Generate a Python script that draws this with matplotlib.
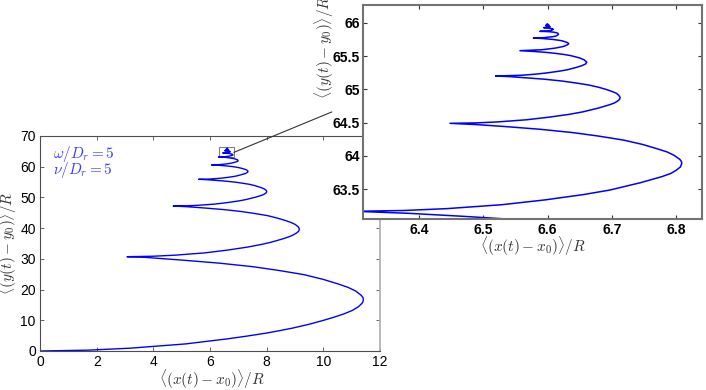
import matplotlib
matplotlib.use("Agg")
import matplotlib.pyplot as plt  # noqa: E402
from matplotlib.patches import Rectangle  # noqa: E402

plt.rcParams["font.family"] = ["Liberation Sans", "DejaVu Sans"]
plt.rcParams["mathtext.fontset"] = "cm"

# mean trajectory, first five turns
x_coarse = [
    0.00, 1.71, 3.19, 5.13, 6.62, 7.30, 7.99, 8.44, 8.90, 9.47, 9.98, 10.39, 10.73, 11.02,
    11.24, 11.36, 11.40, 11.41,
    11.40, 11.34, 11.14, 10.87, 10.51, 9.99, 9.31, 8.41, 7.51, 6.32, 5.10, 4.07, 3.57, 3.07,
    3.98, 4.77, 5.81, 6.60, 7.33, 7.81, 8.12, 8.39, 8.61, 8.79, 8.94, 9.06, 9.13, 9.15,
    9.14, 9.11, 9.01, 8.86, 8.67, 8.39, 8.03, 7.55, 7.07, 6.44, 5.79, 5.23, 4.70,
    5.20, 5.62, 6.19, 6.61, 7.01, 7.27, 7.59, 7.80, 7.89, 7.95, 7.99, 8.00,
    7.98, 7.92, 7.84, 7.74, 7.59, 7.40, 7.14, 6.88, 6.54, 6.19, 5.89, 5.60,
    5.86, 6.09, 6.38, 6.61, 6.82, 6.96, 7.12, 7.24, 7.28, 7.31, 7.33, 7.34,
    7.33, 7.30, 7.26, 7.20, 7.12, 7.01, 6.88, 6.74, 6.55, 6.36, 6.20, 6.05,
    6.19, 6.31, 6.47, 6.60, 6.71, 6.78, 6.87, 6.934, 6.958, 6.976, 6.986, 6.99,
    6.983, 6.968, 6.945, 6.915, 6.873, 6.816, 6.742, 6.667, 6.569, 6.468, 6.383,
]
y_coarse = [
    0.00, 0.28, 0.92, 2.30, 3.96, 4.85, 5.83, 6.60, 7.43, 8.64, 9.92, 11.05, 12.10, 13.20,
    14.43, 15.50, 16.12, 16.73,
    17.35, 18.11, 19.53, 20.72, 21.86, 23.33, 24.87, 26.25, 27.45, 28.61, 29.53, 30.24, 30.58, 30.70,
    30.85, 31.20, 31.94, 32.83, 33.84, 34.69, 35.34, 36.03, 36.64, 37.20, 37.80, 38.46, 39.03, 39.69,
    40.02, 40.44, 41.19, 41.84, 42.45, 43.24, 44.07, 44.81, 45.45, 46.08, 46.57, 46.95, 47.20,
    47.28, 47.46, 47.85, 48.32, 48.85, 49.31, 50.04, 50.63, 50.94, 51.29, 51.59, 51.94,
    52.33, 52.73, 53.07, 53.39, 53.81, 54.25, 54.64, 54.98, 55.31, 55.57, 55.77, 55.90,
    55.94, 56.04, 56.25, 56.51, 56.79, 57.04, 57.43, 57.75, 57.92, 58.11, 58.27, 58.46,
    58.67, 58.89, 59.07, 59.25, 59.47, 59.71, 59.92, 60.10, 60.28, 60.42, 60.53, 60.60,
    60.62, 60.68, 60.79, 60.93, 61.09, 61.22, 61.44, 61.61, 61.705, 61.81, 61.90, 62.00,
    62.116, 62.235, 62.335, 62.43, 62.553, 62.682, 62.797, 62.898, 63.035, 63.095, 63.14,
]

# later turns
x_fine = [
    6.300, 6.376, 6.443, 6.529, 6.595, 6.656, 6.697, 6.745, 6.778, 6.792, 6.801, 6.807, 6.809,
    6.8085, 6.806, 6.797, 6.786, 6.770, 6.748, 6.718, 6.679, 6.640, 6.589, 6.536, 6.491, 6.448,
    6.488, 6.522, 6.567, 6.602, 6.634, 6.655, 6.680, 6.697, 6.704, 6.709, 6.712, 6.713,
    6.711, 6.707, 6.700, 6.692, 6.680, 6.664, 6.643, 6.622, 6.595, 6.566, 6.542, 6.519,
    6.559, 6.583, 6.601, 6.618, 6.630, 6.643, 6.652, 6.659, 6.661,
    6.657, 6.650, 6.643, 6.635, 6.624, 6.612, 6.598, 6.582, 6.557,
    6.591, 6.601, 6.610, 6.616, 6.624, 6.628, 6.631, 6.633,
    6.631, 6.627, 6.624, 6.619, 6.613, 6.607, 6.599, 6.591, 6.578,
    6.595, 6.601, 6.608, 6.612, 6.615, 6.617,
    6.616, 6.614, 6.609, 6.603, 6.596, 6.588,
    6.598, 6.605, 6.609, 6.607, 6.601, 6.594,
    6.601, 6.604, 6.602, 6.597,
    6.600, 6.602, 6.600, 6.598, 6.600,
]
y_fine = [
    63.170, 63.182, 63.210, 63.269, 63.340, 63.421, 63.489, 63.600, 63.690, 63.738, 63.790, 63.837, 63.889,
    63.916, 63.949, 64.010, 64.061, 64.110, 64.173, 64.239, 64.299, 64.350, 64.400, 64.440, 64.470, 64.490,
    64.496, 64.511, 64.543, 64.582, 64.625, 64.662, 64.721, 64.770, 64.795, 64.824, 64.849, 64.877,
    64.909, 64.942, 64.969, 64.996, 65.030, 65.065, 65.097, 65.125, 65.152, 65.173, 65.190, 65.200,
    65.211, 65.229, 65.249, 65.272, 65.292, 65.324, 65.350, 65.379, 65.407,
    65.442, 65.471, 65.489, 65.508, 65.525, 65.540, 65.554, 65.566, 65.580,
    65.594, 65.605, 65.616, 65.626, 65.642, 65.655, 65.669, 65.684,
    65.701, 65.715, 65.724, 65.734, 65.742, 65.750, 65.757, 65.763, 65.770,
    65.775, 65.783, 65.790, 65.797, 65.809, 65.825,
    65.840, 65.849, 65.858, 65.864, 65.868, 65.870,
    65.874, 65.882, 65.899, 65.910, 65.920, 65.925,
    65.930, 65.940, 65.950, 65.955,
    65.958, 65.965, 65.970, 65.972, 65.980,
]

x_ticks = [0, 2, 4, 6, 8, 10, 12]
y_ticks = [0, 10, 20, 30, 40, 50, 60, 70]
zoom_xticks = [6.4, 6.5, 6.6, 6.7, 6.8]
zoom_yticks = [63.5, 64, 64.5, 65, 65.5, 66]
zoom_yticklabels = ["63.5", "64", "64.5", "65", "65.5", "66"]
zoom_xlim = (6.313, 6.841)
zoom_ylim = (63.05, 66.27)

xs = x_coarse + x_fine
ys = y_coarse + y_fine
BLUE = "#0000ff"
XLAB = r"$\langle (x(t)-x_0)\rangle/R$"
YLAB = r"$\langle (y(t)-y_0)\rangle/R$"

fig = plt.figure(figsize=(7.06, 3.9), dpi=100)

# ---- main panel ---------------------------------------------------------
ax = fig.add_axes([0.0567, 0.1, 0.4816, 0.5513])
ax.plot(xs, ys, color=BLUE, lw=1.0)
ax.set_xlim(0, 12)
ax.set_ylim(0, 70)
ax.set_xticks(x_ticks)
ax.set_yticks(y_ticks)
ax.tick_params(direction="in", top=True, right=True, length=3, width=0.6,
               labelsize=10, color="0.3", pad=3)
for s in ax.spines.values():
    s.set_color("0.3"); s.set_linewidth(0.8)
ax.spines["right"].set_color("0.7"); ax.spines["right"].set_linewidth(1.3)
ax.set_xlabel(XLAB, fontsize=11, color="0.2")
ax.xaxis.set_label_coords(0.506, -0.08)
ax.set_ylabel(YLAB, fontsize=11, color="0.2")
ax.yaxis.set_label_coords(-0.062, 0.5)
ax.text(0.038, 0.965, r"$\omega/D_r = 5$", transform=ax.transAxes, color="#3c3cff",
        fontsize=11, va="top", ha="left")
ax.text(0.038, 0.888, r"$\nu/D_r = 5$", transform=ax.transAxes, color="#3c3cff",
        fontsize=11, va="top", ha="left")

# box marking the zoomed region + connector
ax.add_patch(Rectangle((zoom_xlim[0], zoom_ylim[0]), zoom_xlim[1] - zoom_xlim[0],
                       zoom_ylim[1] - zoom_ylim[0], fill=False, ec="0.5", lw=0.8))
ax.annotate("", xy=(0.470, 0.713), xycoords="figure fraction",
            xytext=(zoom_xlim[1], 0.5 * (zoom_ylim[0] + zoom_ylim[1])), textcoords="data",
            arrowprops=dict(arrowstyle="-", color="0.2", lw=0.8, shrinkA=0, shrinkB=0),
            annotation_clip=False)

# ---- zoomed panel --------------------------------------------------------
ins = fig.add_axes([0.5146, 0.4377, 0.4802, 0.5503])
ins.set_facecolor("white")
ins.plot(xs, ys, color=BLUE, lw=1.1)
ins.set_xlim(*zoom_xlim)
ins.set_ylim(*zoom_ylim)
ins.set_xticks(zoom_xticks)
ins.set_yticks(zoom_yticks)
ins.set_yticklabels(zoom_yticklabels)
ins.tick_params(direction="in", top=True, right=True, length=3, width=0.8,
                labelsize=10, color="0.2", pad=2.5)
for lab in ins.get_xticklabels() + ins.get_yticklabels():
    lab.set_fontweight("bold")
for s in ins.spines.values():
    s.set_color("0.45"); s.set_linewidth(1.5)
ins.set_xlabel(XLAB, fontsize=11, color="0.2")
ins.xaxis.set_label_coords(0.5, -0.072)
ins.set_ylabel(YLAB, fontsize=11, color="0.2")
ins.yaxis.set_label_coords(-0.08, 0.8)

fig.savefig("out.png", dpi=100)
